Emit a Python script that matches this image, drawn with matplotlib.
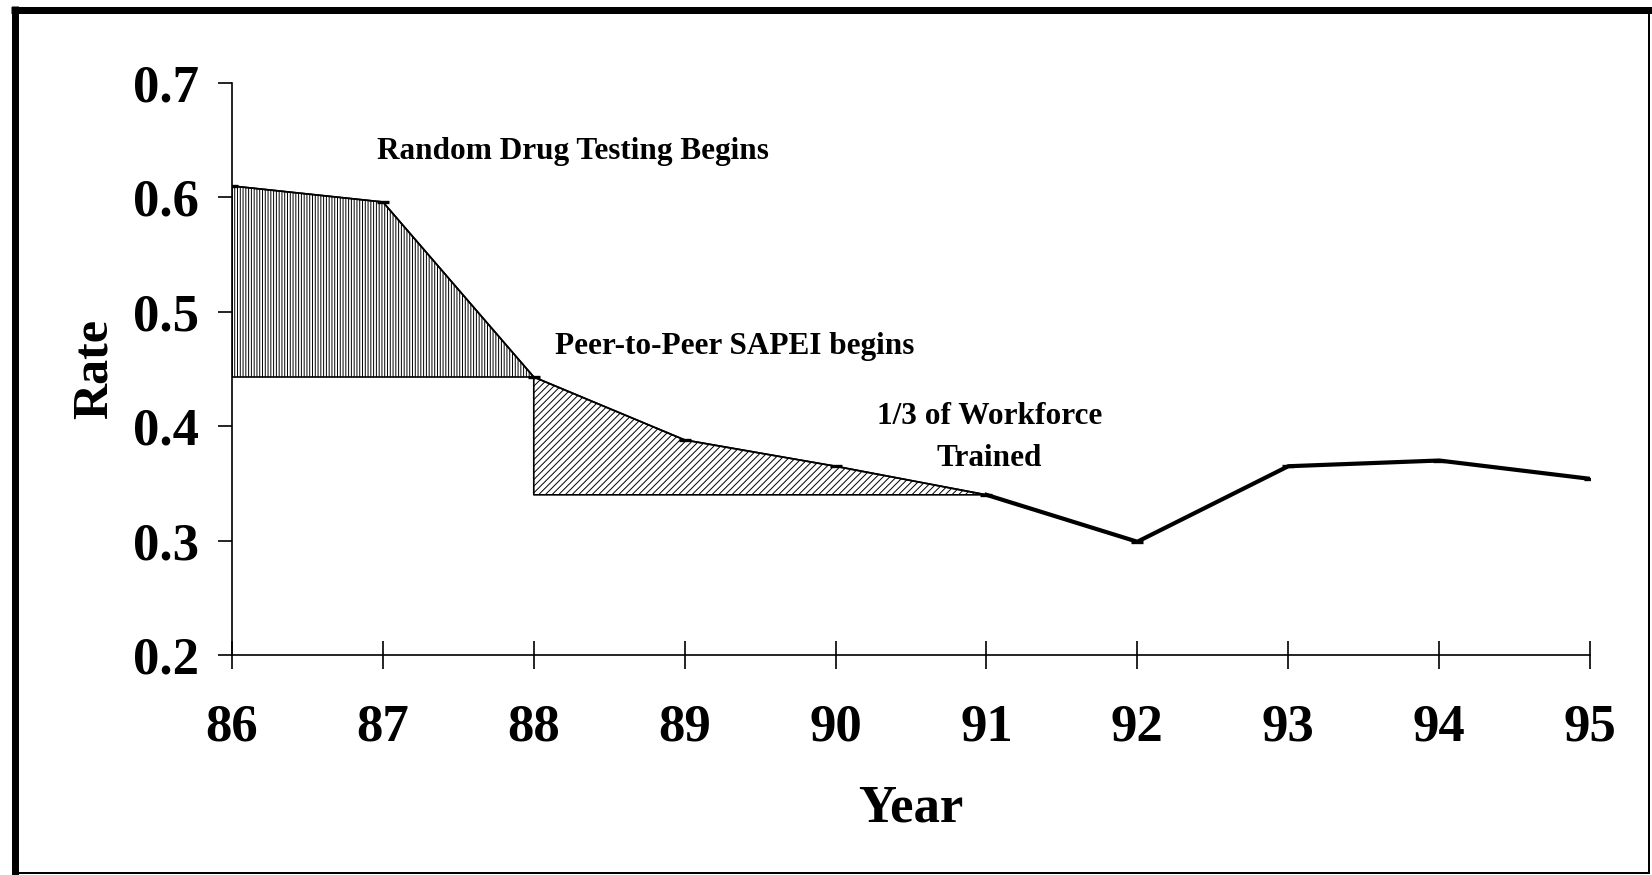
import matplotlib
matplotlib.use("Agg")
import matplotlib.pyplot as plt
from matplotlib.lines import Line2D

# ---------- data ----------
years = [86, 87, 88, 89, 90, 91, 92, 93, 94, 95]
rate = [0.610, 0.596, 0.443, 0.388, 0.365, 0.340, 0.299, 0.365, 0.370, 0.354]
yticks = [0.2, 0.3, 0.4, 0.5, 0.6, 0.7]

notes = [
    ("Random Drug Testing Begins", 88.26, 0.640),
    ("Peer-to-Peer SAPEI begins", 89.33, 0.470),
    ("1/3 of Workforce\nTrained", 91.02, 0.390),
]

# ---------- style ----------
plt.rcParams["font.family"] = ["Liberation Serif", "DejaVu Serif"]
plt.rcParams["font.weight"] = "bold"
plt.rcParams["hatch.linewidth"] = 0.7

W, H = 1652, 875
fig = plt.figure(figsize=(W / 100, H / 100), dpi=100)
fig.patch.set_facecolor("white")

# axes placed in pixel terms
L, R, B, T = 232, 1590, 655, 83
ax = fig.add_axes([L / W, (H - B) / H, (R - L) / W, (B - T) / H])

# hatched regions
ax.fill_between(years[0:3], rate[0:3], rate[2], facecolor="white",
                edgecolor="black", hatch="||||||", linewidth=1.2, zorder=2)
ax.fill_between(years[2:6], rate[2:6], rate[5], facecolor="white",
                edgecolor="black", hatch="/////", linewidth=1.2, zorder=2)

# line: thin in first part, thick afterwards
ax.plot(years[0:6], rate[0:6], color="black", lw=1.2, zorder=3)
ax.plot(years[5:], rate[5:], color="black", lw=3.0, zorder=3)
ax.plot(years, rate, linestyle="none", marker="_", markersize=8,
        markeredgewidth=2.4, color="black", zorder=4)

for txt, xx, yy in notes:
    ax.text(xx, yy, txt, ha="center", va="center", fontsize=22.5,
            fontweight="bold", linespacing=1.6)

ax.set_xlim(86, 95)
ax.set_ylim(0.2, 0.7)
ax.set_xticks(years)
ax.set_xticklabels([str(y) for y in years])
ax.set_yticks(yticks)
ax.set_yticklabels([f"{v:.1f}" for v in yticks])

for s in ["top", "right"]:
    ax.spines[s].set_visible(False)
for s in ["left", "bottom"]:
    ax.spines[s].set_linewidth(1.2)

ax.tick_params(axis="x", direction="inout", length=20, width=1.2,
               labelsize=38, pad=25)
ax.tick_params(axis="y", direction="out", length=10, width=1.2,
               labelsize=38, pad=14)
for lab in ax.get_xticklabels() + ax.get_yticklabels():
    lab.set_fontweight("bold")

ax.set_xlabel("Year", fontsize=38, fontweight="bold", labelpad=24)
ax.set_ylabel("Rate", fontsize=36, fontweight="bold", labelpad=11)

# ---------- outer frame ----------
def px(x, y):
    return x / W, 1 - y / H

def frame_line(p0, p1, lw_px):
    (x0, y0), (x1, y1) = px(*p0), px(*p1)
    fig.add_artist(Line2D([x0, x1], [y0, y1], transform=fig.transFigure,
                          color="black", lw=lw_px * 0.72,
                          solid_capstyle="butt"))

frame_line((14.5, 6), (14.5, 875), 7)     # left, thick
frame_line((11, 9.5), (1652, 9.5), 7)     # top, thick
frame_line((1649, 13), (1649, 874), 2)    # right, thin
frame_line((18, 873), (1650, 873), 2)     # bottom, thin

fig.savefig("out.png", dpi=100, facecolor="white")
